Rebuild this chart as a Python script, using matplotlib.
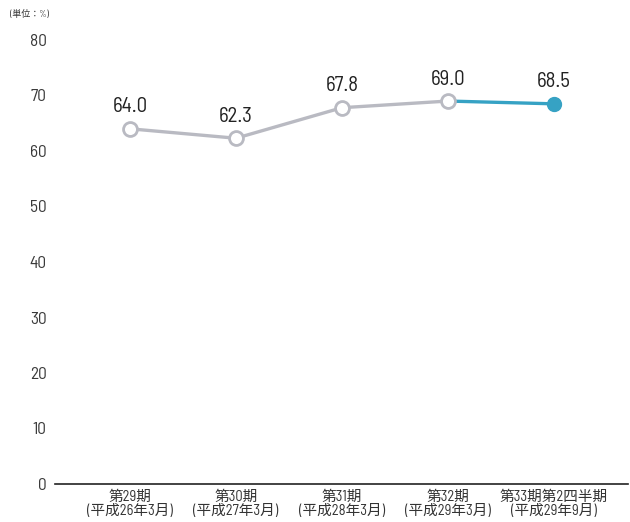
import matplotlib
matplotlib.use("Agg")
import matplotlib.pyplot as plt

# condensed latin font first, Japanese fallback after it
plt.rcParams['font.family'] = ['Barlow Semi Condensed', 'Noto Sans CJK JP', 'DejaVu Sans']

categories = ['第29期\n(平成26年3月)', '第30期\n(平成27年3月)', '第31期\n(平成28年3月)',
              '第32期\n(平成29年3月)', '第33期第2四半期\n(平成29年9月)']
values = [64.0, 62.3, 67.8, 69.0, 68.5]
yticks = [0, 10, 20, 30, 40, 50, 60, 70, 80]

gray = '#b9bac2'
blue = '#36a2c4'

fig = plt.figure(figsize=(6.3, 5.22), dpi=100)
ax = fig.add_axes([55 / 630, 38 / 522, 573 / 630, 444 / 522])

x = list(range(len(values)))
ax.plot(x[:4], values[:4], color=gray, lw=2.4, zorder=2)
ax.plot(x[3:], values[3:], color=blue, lw=2.4, zorder=2)
ax.plot(x[:4], values[:4], 'o', ms=10, mfc='white', mec=gray, mew=2, zorder=3)
ax.plot(x[4], values[4], 'o', ms=10, mfc=blue, mec=blue, zorder=3)

for xi, v in zip(x, values):
    ax.annotate(f'{v:.1f}', (xi, v), xytext=(0, 9), textcoords='offset points',
                ha='center', va='bottom', fontsize=15, color='#222222')

ax.set_xlim(-0.708, 4.70)
ax.set_ylim(0, 80)
ax.set_yticks(yticks)
ax.set_xticks(x)
ax.set_xticklabels(categories, fontsize=10.5, color='#333333', linespacing=1.0)
ax.tick_params(axis='y', length=0, labelsize=12.5, labelcolor='#3a3a3a', pad=6)
ax.tick_params(axis='x', length=0, pad=4)
for s in ['top', 'right', 'left']:
    ax.spines[s].set_visible(False)
ax.spines['bottom'].set_color('#222222')
ax.spines['bottom'].set_linewidth(1.2)

fig.text(10 / 630, 1 - 14 / 522, '(単位：%)', fontsize=6.5, color='#333333', va='center')

fig.savefig('out.png', dpi=100)
